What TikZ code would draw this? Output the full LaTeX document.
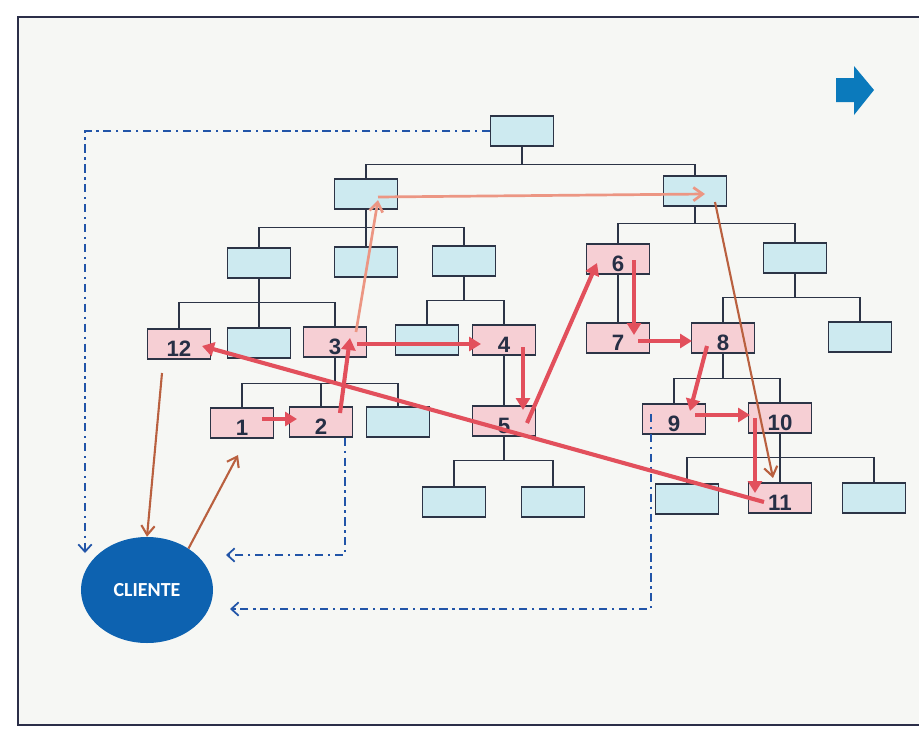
\documentclass[tikz,border=0pt]{standalone}
\usepackage{fontspec}
\setmainfont{Liberation Sans}
\newfontfamily\clfont{Carlito}
\usetikzlibrary{arrows.meta,shapes.geometric}
\definecolor{boxblue}{HTML}{CDEAF0}
\definecolor{boxpink}{HTML}{F6CFD4}
\definecolor{edgeink}{HTML}{2C3446}
\definecolor{numink}{HTML}{262F45}
\definecolor{pathred}{HTML}{E2505C}
\definecolor{pathsalmon}{HTML}{EC9683}
\definecolor{pathbrown}{HTML}{B9603F}
\definecolor{dashblue}{HTML}{2255A8}
\definecolor{clientblue}{HTML}{0D62B0}
\definecolor{slidebg}{HTML}{F6F7F4}
\definecolor{frameink}{HTML}{2B2E48}
\tikzset{
  bbox/.style={rectangle, draw=edgeink, fill=boxblue, line width=1.1pt, minimum width=1.89cm, minimum height=0.9cm, inner sep=0pt},
  pbox/.style={bbox, fill=boxpink, font=\fontsize{19}{20}\selectfont\bfseries, text=numink, text height=21pt, text depth=0pt},
  tline/.style={draw=edgeink, line width=0.9pt},
  rarc/.style={-{Triangle[length=3.6mm,width=4.2mm]}, draw=pathred, line width=3.5pt},
  sarc/.style={-{Straight Barb[length=2.8mm,width=4mm]}, draw=pathsalmon, line width=2.3pt},
  narc/.style={-{Straight Barb[length=2.8mm,width=4mm]}, draw=pathbrown, line width=1.8pt},
  darc/.style={-{Straight Barb[length=2.2mm,width=4mm]}, draw=dashblue, line width=1.5pt, dash pattern=on 7pt off 4pt on 2pt off 4pt},
  client/.style={ellipse, fill=clientblue, minimum width=3.96cm, minimum height=3.18cm, inner sep=0pt, font=\clfont\fontsize{17}{18}\selectfont\bfseries, text=white},
  frm/.style={draw=frameink, line width=1.8pt},
  flag/.style={fill=clientblue!85!cyan},
}

\begin{document}
\begin{tikzpicture}[x=0.03cm,y=-0.03cm]
  \useasboundingbox (0,0) rectangle (919,729);
  \fill[white] (0,0) rectangle (919,729);
  \fill[slidebg] (18,17) rectangle (919,725);
  \draw[frm] (919,17) -- (18,17) -- (18,725) -- (919,725);
  \fill[flag] (836,78) -- (854,78) -- (854,66) -- (874,90) -- (854,115) -- (854,102) -- (836,102) -- cycle;
  \node[bbox] (t0) at (522,131) {};
  \node[bbox] (a1) at (366,194) {};
  \node[bbox] (a2) at (695,191) {};
  \node[bbox] (b1) at (259,263) {};
  \node[bbox] (b2) at (366,262) {};
  \node[bbox] (b3) at (464,261) {};
  \node[pbox] (n12) at (179,344) {12};
  \node[bbox] (c0) at (259,343) {};
  \node[pbox] (n3) at (335,342) {3};
  \node[bbox] (c1) at (427,340) {};
  \node[pbox] (n4) at (504,340) {4};
  \node[pbox] (n1) at (242,423) {1};
  \node[pbox] (n2) at (321,422) {2};
  \node[bbox] (d3) at (398,422) {};
  \node[pbox] (n5) at (504,421) {5};
  \node[bbox] (e1) at (454,502) {};
  \node[bbox] (e2) at (553,502) {};
  \node[pbox] (n6) at (618,259) {6};
  \node[bbox] (b4) at (795,258) {};
  \node[pbox] (n7) at (618,338) {7};
  \node[pbox] (n8) at (723,338) {8};
  \node[bbox] (f1) at (860,337) {};
  \node[pbox] (n9) at (674,419) {9};
  \node[pbox] (n10) at (780,418) {10};
  \node[bbox] (g1) at (687,499) {};
  \node[pbox] (n11) at (780,498) {11};
  \node[bbox] (g2) at (874,498) {};
  \node[client] (cli) at (147,590) {CLIENTE};
  \draw[tline] (t0.south) -- ++(0,18) -| (a1.north);
  \draw[tline] (t0.south) -- ++(0,18) -| (a2.north);
  \draw[tline] (a1.south) -- ++(0,18) -| (b1.north);
  \draw[tline] (a1.south) -- (b2.north);
  \draw[tline] (a1.south) -- ++(0,18) -| (b3.north);
  \draw[tline] (b1.south) -- ++(0,24) -| (n12.north);
  \draw[tline] (b1.south) -- (c0.north);
  \draw[tline] (b1.south) -- ++(0,24) -| (n3.north);
  \draw[tline] (b3.south) -- ++(0,24) -| (c1.north);
  \draw[tline] (b3.south) -- ++(0,24) -| (n4.north);
  \draw[tline] (n3.south) -- ++(0,26) -| (n1.north);
  \draw[tline] (n3.south) -- ++(0,26) -| (n2.north);
  \draw[tline] (n3.south) -- ++(0,26) -| (d3.north);
  \draw[tline] (n4.south) -- (n5.north);
  \draw[tline] (n5.south) -- ++(0,24) -| (e1.north);
  \draw[tline] (n5.south) -- ++(0,24) -| (e2.north);
  \draw[tline] (a2.south) -- ++(0,17) -| (n6.north);
  \draw[tline] (a2.south) -- ++(0,17) -| (b4.north);
  \draw[tline] (n6.south) -- (n7.north);
  \draw[tline] (b4.south) -- ++(0,24) -| (n8.north);
  \draw[tline] (b4.south) -- ++(0,24) -| (f1.north);
  \draw[tline] (n8.south) -- ++(0,25) -| (n9.north);
  \draw[tline] (n8.south) -- ++(0,25) -| (n10.north);
  \draw[tline] (n10.south) -- ++(0,24) -| (g1.north);
  \draw[tline] (n10.south) -- (n11.north);
  \draw[tline] (n10.south) -- ++(0,24) -| (g2.north);
  \coordinate (cl1) at (85,553);
  \coordinate (cl2) at (226,555);
  \coordinate (cl3) at (230,609);
  \draw[darc] (t0.west) -| (cl1);
  \draw[darc] ([shift={(24,0)}]n2.south) |- (cl2);
  \draw[darc] ([shift={(-23,-5)}]n9.center) |- (cl3);
  \draw[sarc] ([shift={(21,-10)}]n3.center) -- ([shift={(12,6)}]a1.center);
  \draw[sarc] ([shift={(12,3)}]a1.center) -- ([shift={(10,3)}]a2.center);
  \draw[narc] ([shift={(20,11)}]a2.center) -- ([shift={(-7,-20)}]n11.center);
  \draw[narc] ([shift={(-17,29)}]n12.center) -- (cli.north);
  \draw[narc] (cli.45) -- ([shift={(-4,32)}]n1.center);
  \draw[rarc] ([shift={(20,-4)}]n1.center) -- ([shift={(-24,-3)}]n2.center);
  \draw[rarc] ([shift={(19,-9)}]n2.center) -- ([shift={(15,-4)}]n3.center);
  \draw[rarc] ([shift={(22,2)}]n3.center) -- ([shift={(-23,4)}]n4.center);
  \draw[rarc] ([shift={(19,7)}]n4.center) -- ([shift={(19,-11)}]n5.center);
  \draw[rarc] ([shift={(23,2)}]n5.center) -- ([shift={(-21,4)}]n6.center);
  \draw[rarc] ([shift={(16,1)}]n6.center) -- ([shift={(16,-3)}]n7.center);
  \draw[rarc] ([shift={(20,3)}]n7.center) -- ([shift={(-31,3)}]n8.center);
  \draw[rarc] ([shift={(-16,8)}]n8.center) -- ([shift={(16,-8)}]n9.center);
  \draw[rarc] ([shift={(21,-4)}]n9.center) -- ([shift={(-30,-3)}]n10.center);
  \draw[rarc] ([shift={(-25,0)}]n10.center) -- ([shift={(-25,-5)}]n11.center);
  \draw[rarc] ([shift={(-16,4)}]n11.center) -- ([shift={(23,2)}]n12.center);
\end{tikzpicture}
\end{document}
